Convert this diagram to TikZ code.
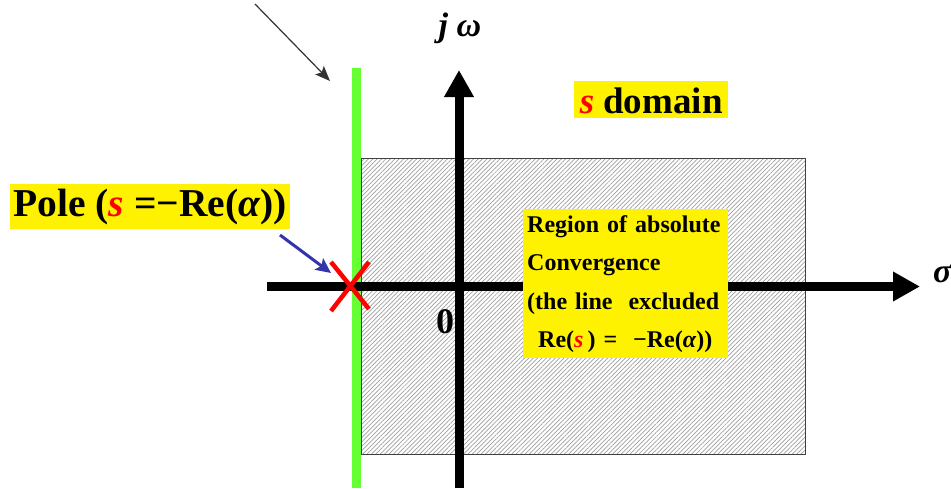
\documentclass[tikz,border=0pt]{standalone}
\usepackage{fontspec}
\setmainfont{Liberation Serif}
\usetikzlibrary{arrows.meta,patterns.meta}
\definecolor{brgreen}{RGB}{102,255,51}
\definecolor{arrblue}{RGB}{51,51,170}
\newcommand\fsz[1]{\fontsize{#1}{#1}\selectfont}
\newcommand\rs{\textcolor{red}{\textit{s}}}
\begin{document}
\begin{tikzpicture}[x=1pt,y=-1pt,
  ybox/.style={fill=yellow, inner sep=0pt, font=\bfseries},
  axisline/.style={line width=9pt, -{Triangle[length=27pt,width=28pt]}},
  lbl/.style={inner sep=0pt, font=\bfseries},
  ptr/.style={line width=1.2pt, draw=black!80, -{Stealth[length=15pt,width=12pt,inset=3pt]}},
  bptr/.style={line width=3pt, draw=arrblue, -{Stealth[length=15pt,width=14pt,inset=3pt]}},
  cross/.style={draw=red, line width=4.5pt}]
\useasboundingbox (0,0) rectangle (951,488);
% hatched region
\node[draw=black!75, line width=1.2pt, pattern={Lines[angle=45,distance=3.1pt,line width=0.7pt]}, pattern color=black!38,
  minimum width=444pt, minimum height=296pt, inner sep=0pt, anchor=north west] (roc) at (361,158) {};
% green line
\coordinate (gtop) at (356,68);
\coordinate (gbot) at (356,488);
\draw[brgreen, line width=9pt] (gbot) -- (gtop);
% axes
\coordinate (vbot) at (459,488);
\coordinate (vtop) at (459,70);
\coordinate (hl) at (267,286.5);
\coordinate (hr) at (920,286.5);
\draw[axisline] (vbot) -- (vtop);
\draw[axisline] (hl) -- (hr);
% labels
\node[lbl, anchor=base, font=\bfseries\itshape\fsz{34}] (jw) at (460,36) {j ω};
\node[lbl, anchor=base west, font=\bfseries\itshape\fsz{34}] (sig) at (933,282) {σ};
\node[lbl, anchor=base, font=\bfseries\fsz{36}] (zero) at (445,333) {0};
% s domain
\node[ybox, anchor=north west, minimum width=154pt, minimum height=37pt,
  text height=27pt, text depth=0pt, font=\bfseries\fsz{37}] (sd) at (574,81) {\rs\ domain};
% pole label
\node[ybox, anchor=north west, minimum width=280pt, minimum height=45pt,
  text height=28.5pt, text depth=8pt, font=\bfseries\fsz{39.5}] (pole) at (10,184) {Pole (\rs\ =−Re(\textit{α}))};
% region label
\node[ybox, anchor=north west, text width=197pt, inner xsep=4pt, inner ysep=0pt, align=left,
  font=\bfseries\fontsize{24}{38.5}\selectfont] (reg) at (523,209)
  {\rule{0pt}{23pt}Region of absolute\\
   Convergence\\
   (the line\ \ excluded\\
   \hspace*{11pt}Re(\rs\,)\ =\ \ −Re(\textit{α}))\rule[-10pt]{0pt}{10pt}};
% pole cross
\coordinate (x1a) at (331,262);
\coordinate (x1b) at (369,309);
\coordinate (x2a) at (369,262);
\coordinate (x2b) at (331,311);
\draw[cross] (x1a) -- (x1b);
\draw[cross] (x2a) -- (x2b);
% arrows
\coordinate (b0) at (280,235);
\coordinate (b1) at (331,273);
\draw[bptr] (b0) -- (b1);
\coordinate (k0) at (255,4);
\coordinate (k1) at (330,81);
\draw[ptr] (k0) -- (k1);
\end{tikzpicture}
\end{document}
